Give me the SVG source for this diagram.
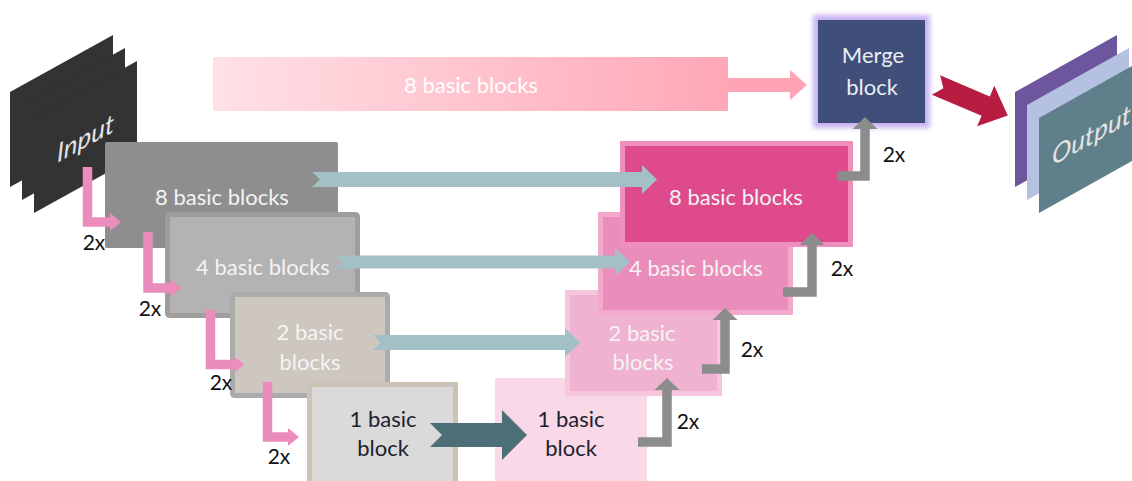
<svg xmlns="http://www.w3.org/2000/svg" width="1132" height="481" viewBox="0 0 1132 481">
  <defs>
    <linearGradient id="topBarGrad" x1="0" y1="0" x2="1" y2="0">
      <stop offset="0" stop-color="#ffe1e6"/>
      <stop offset="1" stop-color="#ffa7b6"/>
    </linearGradient>
    <filter id="glow" x="-20%" y="-20%" width="140%" height="140%">
      <feGaussianBlur stdDeviation="2.5"/>
    </filter>
    <marker id="pinkHead" markerUnits="userSpaceOnUse" markerWidth="14" markerHeight="22" refX="0" refY="0" viewBox="0 -11 14 22" orient="auto" overflow="visible">
      <path d="M0,-9 L11,0 L0,9 Z" fill="#ea8dbd"/>
    </marker>
    <marker id="grayHead" markerUnits="userSpaceOnUse" markerWidth="14" markerHeight="28" refX="0" refY="0" viewBox="0 -14 14 28" orient="auto" overflow="visible">
      <path d="M0,-12.5 L12,0 L0,12.5 Z" fill="#8c8c8c"/>
    </marker>
  </defs>
  <style>
    .lbl { font-family: Lato, "Open Sans", sans-serif; font-size: 22px; text-anchor: middle; }
    .light { fill: #f4f4f4; }
    .dark { fill: #1c1f30; }
    .mult { font-family: Lato, "Open Sans", sans-serif; font-size: 21px; fill: #111111; text-anchor: middle; }
    .sheetTxt { font-family: Lato, "Open Sans", sans-serif; font-size: 26px; font-style: italic; fill: #e4e4e4; }
    .pinkL { fill: none; stroke: #ea8dbd; stroke-width: 9.5; stroke-linejoin: miter; marker-end: url(#pinkHead); }
    .grayL { fill: none; stroke: #8c8c8c; stroke-width: 9.5; stroke-linejoin: miter; marker-end: url(#grayHead); }
    .skip { fill: #a3c0c6; }
  </style>

  <rect width="1132" height="481" fill="#ffffff"/>

  <!-- input tensor stack -->
  <g id="input">
    <polygon points="10,92 113,35 113,130 10,187" fill="#333333"/>
    <polygon points="22,105 125,48 125,143 22,200" fill="#333333"/>
    <polygon points="34,118 137,61 137,156 34,213" fill="#333333"/>
    <text class="sheetTxt" transform="translate(57,163) skewY(-29)">Input</text>
  </g>

  <!-- output tensor stack -->
  <g id="output">
    <polygon points="1015,92 1117,35 1117,130 1015,187" fill="#6e569f"/>
    <polygon points="1027,105 1129,48 1129,143 1027,200" fill="#b4c1e1"/>
    <polygon points="1039,118 1141,61 1141,156 1039,213" fill="#5f7f8a"/>
    <text class="sheetTxt" transform="translate(1052,166) skewY(-29)">Output</text>
  </g>

  <!-- full-resolution branch -->
  <g id="top-branch">
    <rect x="213" y="57" width="515" height="54" fill="url(#topBarGrad)"/>
    <text class="lbl" x="471" y="93" fill="#ffffff">8 basic blocks</text>
  </g>

  <!-- encoder blocks -->
  <g id="enc8">
    <rect x="105" y="142" width="233" height="106" rx="2" fill="#8e8e8e"/>
    <text class="lbl light" x="222" y="205">8 basic blocks</text>
  </g>
  <g id="enc4">
    <rect x="167.5" y="214.5" width="190" height="101" rx="2" fill="#b3b3b3" stroke="#9e9e9e" stroke-width="5"/>
    <text class="lbl light" x="263" y="275">4 basic blocks</text>
  </g>
  <g id="enc2">
    <rect x="232.5" y="294.5" width="155" height="101" rx="2" fill="#cdc7bf" stroke="#ababab" stroke-width="5"/>
    <text class="lbl light" x="310" y="340">2 basic</text>
    <text class="lbl light" x="310" y="370">blocks</text>
  </g>
  <g id="enc1">
    <rect x="309.5" y="384.5" width="146" height="110" fill="#dadada" stroke="#cbc3b5" stroke-width="5"/>
    <text class="lbl dark" x="383" y="427">1 basic</text>
    <text class="lbl dark" x="383" y="456">block</text>
  </g>

  <!-- decoder blocks -->
  <g id="dec1">
    <rect x="495" y="378" width="152" height="110" fill="#f9d8e8"/>
    <text class="lbl dark" x="571" y="427">1 basic</text>
    <text class="lbl dark" x="571" y="456">block</text>
  </g>
  <g id="dec2">
    <rect x="567.5" y="292.5" width="152" height="101" fill="#efb2d0" stroke="#f5c6dc" stroke-width="5"/>
    <text class="lbl light" x="642" y="341">2 basic</text>
    <text class="lbl light" x="643" y="370">blocks</text>
  </g>
  <g id="dec4">
    <rect x="600.5" y="214.5" width="190" height="98" fill="#ea8dba" stroke="#f2a9cb" stroke-width="5"/>
    <text class="lbl light" x="696" y="276">4 basic blocks</text>
  </g>
  <g id="dec8">
    <rect x="622.5" y="143.5" width="228" height="101" fill="#de4a8c" stroke="#ee8fbd" stroke-width="5"/>
    <text class="lbl light" x="736" y="205">8 basic blocks</text>
  </g>

  <!-- merge block -->
  <g id="merge">
    <rect x="813" y="15" width="117" height="113" fill="#c9b2f2" filter="url(#glow)"/>
    <rect x="818" y="20" width="107" height="103" fill="#3f4f7a"/>
    <text class="lbl" x="873" y="63" fill="#ececf4">Merge</text>
    <text class="lbl" x="872" y="95" fill="#ececf4">block</text>
  </g>

  <g id="connectors">
    <!-- top branch into merge -->
    <polygon points="728,78 790,78 790,70 807,85 790,100 790,92 728,92" fill="#ffa4b4"/>

    <!-- skip connections -->
    <polygon class="skip" points="312,172 642,172 642,165 657,179.5 642,194 642,187 312,187 320,179.5"/>
    <polygon class="skip" points="335,255.5 615,255.5 615,248 630,262 615,276 615,268.5 335,268.5 343,262"/>
    <polygon class="skip" points="373,335 565,335 565,328 580,342.5 565,357 565,350 373,350 381,342.5"/>
    <polygon points="430,423 502,423 502,410 527,435 502,460 502,447 430,447 442,435" fill="#4b6e77"/>

    <!-- downsampling steps -->
    <path class="pinkL" d="M87.5,167 V222 H110"/>
    <path class="pinkL" d="M148,232 V288 H170"/>
    <path class="pinkL" d="M210.5,310 V364.5 H233"/>
    <path class="pinkL" d="M267.5,382 V437 H288"/>
    <text class="mult" x="94" y="250">2x</text>
    <text class="mult" x="150" y="316">2x</text>
    <text class="mult" x="221" y="390">2x</text>
    <text class="mult" x="279" y="464">2x</text>

    <!-- upsampling steps -->
    <path class="grayL" d="M638,442 H667 V390"/>
    <path class="grayL" d="M702,369 H725 V320"/>
    <path class="grayL" d="M783,292 H812 V245"/>
    <path class="grayL" d="M837,176 H865 V129"/>
    <text class="mult" x="688" y="429">2x</text>
    <text class="mult" x="752" y="357">2x</text>
    <text class="mult" x="842" y="276">2x</text>
    <text class="mult" x="894" y="162">2x</text>

    <!-- merge to output -->
    <polygon points="0,-10.5 54,-10.5 54,-22 78,0 54,22 54,10.5 0,10.5 8,0" fill="#b81c40" transform="translate(936,85) rotate(23)"/>
  </g>
</svg>
